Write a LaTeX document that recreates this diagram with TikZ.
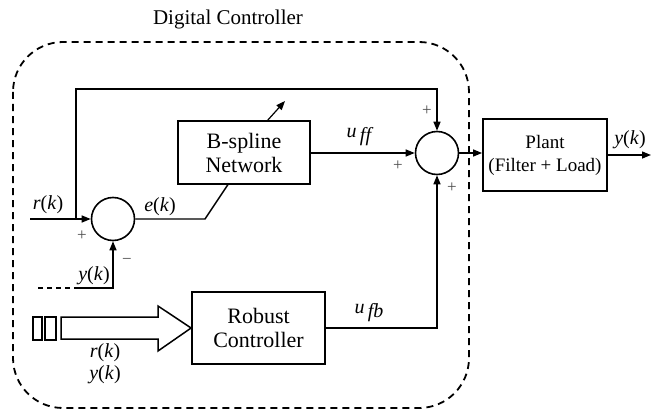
\documentclass[tikz,border=0pt]{standalone}
\usepackage{fontspec}
\setmainfont{Liberation Serif}
\usetikzlibrary{arrows.meta}
\begin{document}
\begin{tikzpicture}[x=1pt,y=-1pt,line width=1.4pt,
  >={Triangle[length=9pt,width=7pt]},
  blk/.style={draw,rectangle,line width=1.8pt,align=center,inner sep=0pt,font=\fontsize{22}{24}\selectfont},
  sumnode/.style={draw,circle,line width=1.6pt,minimum size=43pt,inner sep=0pt},
  lbl/.style={font=\fontsize{20}{22}\selectfont,inner sep=0pt},
  sgn/.style={font=\fontsize{17}{19}\selectfont,inner sep=0pt,text=black!70}]
\useasboundingbox (0,0) rectangle (651,412);
% frame
\draw[dashed,line width=1.8pt,dash pattern=on 7pt off 5pt,rounded corners=50pt] (13,42) rectangle (469,408);
\node[font=\fontsize{21}{23}\selectfont] (title) at (228,19) {Digital Controller};
% blocks
\node[blk,minimum width=132pt,minimum height=63pt] (bs) at (244,152.5) {B-spline\\Network};
\node[blk,minimum width=133pt,minimum height=72pt] (rc) at (258.5,328) {Robust\\Controller};
\node[blk,minimum width=124pt,minimum height=72pt,font=\fontsize{19}{23}\selectfont] (pl) at (545,155) {Plant\\(Filter + Load)};
\node[sumnode] (s1) at (113,219) {};
\node[sumnode] (s2) at (437,153) {};
% coordinates
\coordinate (rin) at (30,219);
\coordinate (tap) at (76,219);
\coordinate (tapup) at (76,89);
\coordinate (ekb) at (205,219);
\coordinate (ekt) at (228,184.5);
\coordinate (adj0) at (267,121);
\coordinate (adj1) at (285,101);
\coordinate (out) at (651,155);
\coordinate (yd0) at (38,288);
\coordinate (yd1) at (77,288);
% connectors
\draw[->] (rin) -- (s1.west);
\draw[->] (tap) -- (tapup) -| (s2.north);
\draw (s1.east) -- (ekb) -- (ekt);
\draw[->,line width=1.2pt] (adj0) -- (adj1);
\draw[->] (bs.east |- s2.west) -- (s2.west);
\draw[->] (s2.east) -- (s2.east -| pl.west);
\draw[->] (pl.east |- out) -- (out);
\draw[->] (rc.east) -| (s2.south);
\draw[dashed,dash pattern=on 5pt off 4pt] (yd0) -- (yd1);
\draw[->] (yd1) -| (s1.south);
% hollow arrow and boxes
\draw[line width=1.5pt] (61,317) -- (158,317) -- (158,306) -- (rc.west) -- (158,351) -- (158,339) -- (61,339) -- cycle;
\draw[line width=1.5pt] (33,317) rectangle (42,340);
\draw[line width=1.5pt] (45,317) rectangle (56,340);
% labels
\node[lbl] (lr) at (48,205) {\textit{r}(\textit{k})};
\node[sgn] (p1) at (82,236) {+};
\node[sgn] (m1) at (127,261) {\textminus};
\node[lbl] (le) at (160,207) {\textit{e}(\textit{k})};
\node[lbl] (ly) at (94,276) {\textit{y}(\textit{k})};
\node[lbl] (luff) at (360,137) {\textit{u}\raisebox{-0.45ex}{\,\textit{ff}}};
\node[sgn] (p2) at (427,111) {+};
\node[sgn] (p3) at (398,166) {+};
\node[sgn] (p4) at (452,188) {+};
\node[lbl] (lyo) at (630,140) {\textit{y}(\textit{k})};
\node[lbl] (lufb) at (369,313) {\textit{u}\raisebox{-0.45ex}{\,\textit{fb}}};
\node[lbl] (lr2) at (105,353) {\textit{r}(\textit{k})};
\node[lbl] (ly2) at (105,375) {\textit{y}(\textit{k})};
\end{tikzpicture}
\end{document}
